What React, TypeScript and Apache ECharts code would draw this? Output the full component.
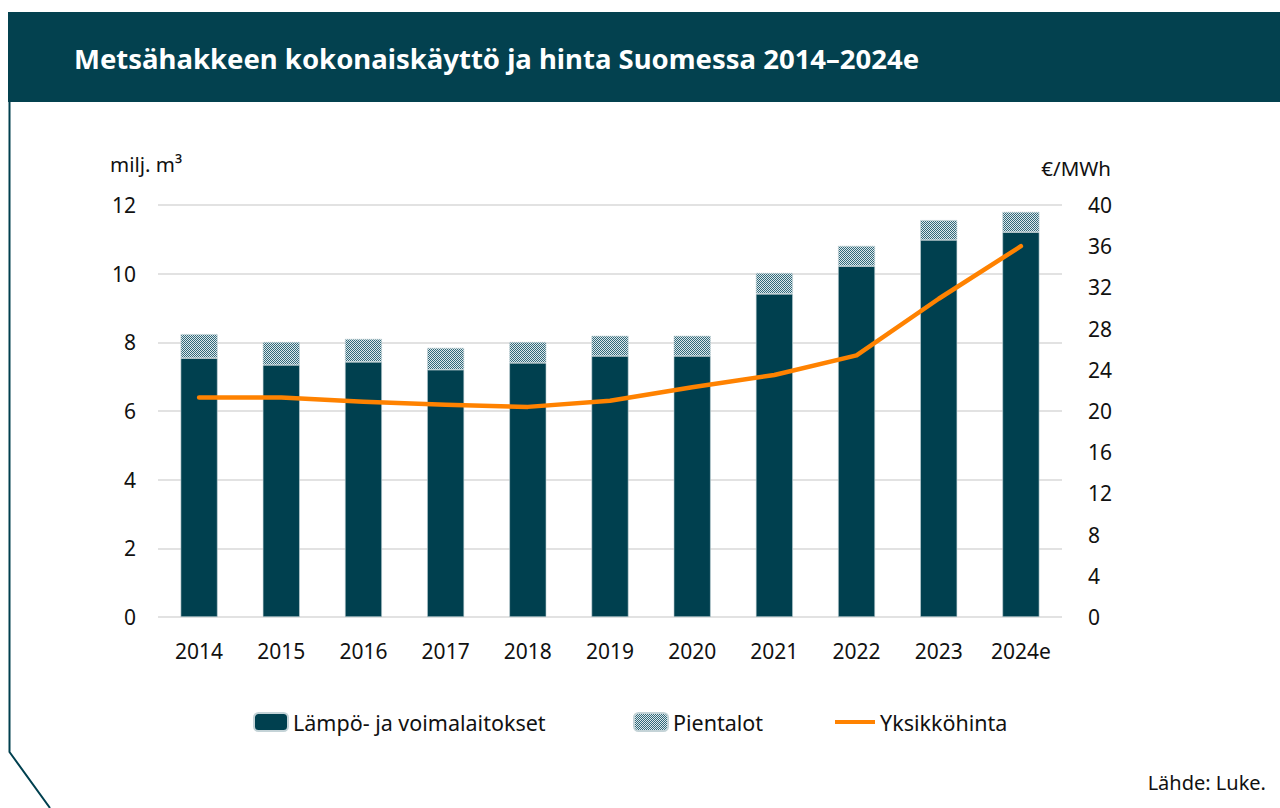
import React, { useEffect, useRef } from "react";
import * as echarts from "echarts";

const years = ["2014", "2015", "2016", "2017", "2018", "2019", "2020", "2021", "2022", "2023", "2024e"];
const plants = [7.54, 7.34, 7.43, 7.2, 7.4, 7.6, 7.6, 9.41, 10.22, 10.98, 11.21];
const houses = [0.7, 0.67, 0.67, 0.64, 0.61, 0.59, 0.59, 0.61, 0.59, 0.58, 0.59];
const price = [21.3, 21.3, 20.9, 20.6, 20.4, 21.0, 22.3, 23.5, 25.4, 30.9, 36.0];
const leftTicks = [0, 2, 4, 6, 8, 10, 12];
const rightTicks = [0, 4, 8, 12, 16, 20, 24, 28, 32, 36, 40];

const NAME_PLANTS = "Lämpö- ja voimalaitokset";
const NAME_HOUSES = "Pientalot";
const NAME_PRICE = "Yksikköhinta";
const TITLE = "Metsähakkeen kokonaiskäyttö ja hinta Suomessa 2014–2024e";

const TEAL = "#00404f";
const ORANGE = "#ff8200";
const FONT = "Noto Sans";

function makePattern(): string {
  const c = document.createElement("canvas");
  c.width = 2;
  c.height = 2;
  const ctx = c.getContext("2d")!;
  ctx.fillStyle = "#dfe9ec";
  ctx.fillRect(0, 0, 2, 2);
  ctx.fillStyle = "#31697a";
  ctx.fillRect(0, 0, 1, 1);
  ctx.fillRect(1, 1, 1, 1);
  return c.toDataURL();
}

export default function App() {
  const ref = useRef<HTMLDivElement>(null);
  useEffect(() => {
    if (!ref.current) return;
    const chart = echarts.init(ref.current, undefined, { renderer: "svg" });
    const pattern = { image: makePattern(), repeat: "repeat" } as any;
    const legendText = { fontSize: 21.5, color: "#111", fontFamily: FONT };
    chart.setOption({
      animation: false,
      textStyle: { fontFamily: FONT },
      grid: { left: 158, right: 218, top: 205, bottom: 191 },
      xAxis: {
        type: "category",
        data: years,
        axisLine: { show: false },
        axisTick: { show: false },
        axisLabel: { fontSize: 21, color: "#111", margin: 23, fontFamily: FONT },
      },
      yAxis: [
        {
          type: "value",
          min: leftTicks[0],
          max: leftTicks[leftTicks.length - 1],
          interval: 2,
          axisLine: { show: false },
          axisTick: { show: false },
          axisLabel: { fontSize: 21, color: "#111", margin: 22, fontFamily: FONT },
          splitLine: { lineStyle: { color: "#d9d9d9", width: 1.5 } },
        },
        {
          type: "value",
          min: rightTicks[0],
          max: rightTicks[rightTicks.length - 1],
          interval: 4,
          axisLine: { show: false },
          axisTick: { show: false },
          axisLabel: { fontSize: 21, color: "#111", margin: 26, fontFamily: FONT },
          splitLine: { show: false },
        },
      ],
      legend: [
        {
          data: [NAME_PLANTS],
          left: 253,
          top: 711,
          itemWidth: 34,
          itemHeight: 18,
          textStyle: legendText,
          padding: 0,
        },
        {
          data: [NAME_HOUSES],
          left: 633,
          top: 711,
          itemWidth: 34,
          itemHeight: 18,
          textStyle: legendText,
          padding: 0,
        },
        {
          data: [{ name: NAME_PRICE, icon: "rect" }],
          left: 835,
          top: 711,
          itemWidth: 40,
          itemHeight: 4,
          textStyle: legendText,
          padding: 0,
        },
      ],
      series: [
        {
          name: NAME_PLANTS,
          type: "bar",
          stack: "total",
          data: plants,
          barWidth: 37,
          itemStyle: { color: TEAL, borderColor: "#c4d3d7", borderWidth: 0.6 },
        },
        {
          name: NAME_HOUSES,
          type: "bar",
          stack: "total",
          data: houses,
          barWidth: 37,
          itemStyle: { color: pattern, borderColor: "#c4d3d7", borderWidth: 0.6 },
        },
        {
          name: NAME_PRICE,
          type: "line",
          yAxisIndex: 1,
          data: price,
          symbol: "none",
          showSymbol: false,
          lineStyle: { color: ORANGE, width: 4.5, cap: "round", join: "round" },
          itemStyle: { color: ORANGE },
          z: 5,
        },
      ],
      graphic: [
        {
          type: "rect",
          shape: { x: 8, y: 12, width: 1280, height: 90 },
          style: { fill: "#03414f" },
          silent: true,
        },
        {
          type: "text",
          x: 74,
          y: 58,
          style: {
            text: TITLE,
            fill: "#ffffff",
            fontSize: 27.5,
            fontWeight: "bold",
            fontFamily: FONT,
            verticalAlign: "middle",
          },
        },
        {
          type: "polyline",
          shape: { points: [[9.5, 102], [9.5, 752], [50, 808]] },
          style: { stroke: TEAL, lineWidth: 2, fill: null },
          silent: true,
        },
        {
          type: "text",
          x: 110,
          y: 164,
          style: { text: "milj. m³", fill: "#111", fontSize: 20.5, fontFamily: FONT, verticalAlign: "middle" },
        },
        {
          type: "text",
          x: 1111,
          y: 168,
          style: { text: "€/MWh", fill: "#111", fontSize: 20.5, fontFamily: FONT, verticalAlign: "middle", align: "right" },
        },
        {
          type: "text",
          x: 1266,
          y: 782,
          style: { text: "Lähde: Luke.", fill: "#111", fontSize: 20, fontFamily: FONT, verticalAlign: "middle", align: "right" },
        },
      ],
    });
    return () => chart.dispose();
  }, []);
  return (
    <div
      ref={ref}
      style={{ position: "fixed", left: 0, top: 0, width: 1280, height: 808, background: "#fff" }}
    />
  );
}
